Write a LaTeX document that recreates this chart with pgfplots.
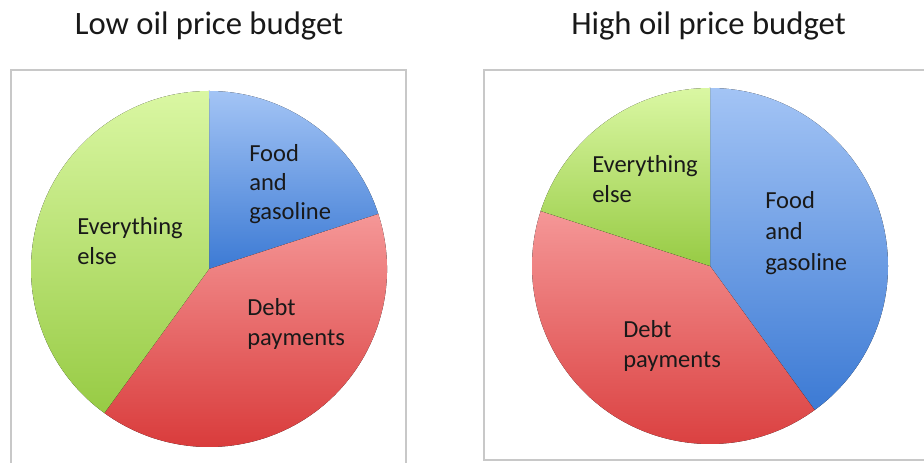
\documentclass[border=0pt]{standalone}
\usepackage{fontspec}
\setmainfont{Carlito}
\usepackage{pgfplots}
\usepackage{pgfplotstable}
\pgfplotsset{compat=1.18}

% shares of each budget, in percent, clockwise from 12 o'clock
\pgfplotstableread{
item share
food 20
debt 40
rest 40
}\lowtable
\pgfplotstableread{
item share
food 40
debt 40
rest 20
}\hightable

\definecolor{bluetop}{HTML}{A3C4F5}
\definecolor{bluebot}{HTML}{3C7AD4}
\definecolor{redtop}{HTML}{F59797}
\definecolor{redbot}{HTML}{D83838}
\definecolor{greentop}{HTML}{DAF7A3}
\definecolor{greenbot}{HTML}{97CB44}
\definecolor{framegray}{HTML}{C8C8C8}

\newcommand{\pieradius}{133.5pt}% 178 px

% start/end angles of the three slices from a table
\newcommand{\pieangles}[1]{%
  \pgfplotstablegetelem{0}{share}\of#1\pgfmathsetmacro\shA{\pgfplotsretval}%
  \pgfplotstablegetelem{1}{share}\of#1\pgfmathsetmacro\shB{\pgfplotsretval}%
  \pgfplotstablegetelem{2}{share}\of#1\pgfmathsetmacro\shC{\pgfplotsretval}%
  \pgfmathsetmacro\degper{360/(\shA+\shB+\shC)}%
  \pgfmathsetmacro\angA{90}%
  \pgfmathsetmacro\angB{\angA-\degper*\shA}%
  \pgfmathsetmacro\angC{\angB-\degper*\shB}%
  \pgfmathsetmacro\angD{\angC-\degper*\shC}%
}
\newcommand{\pieslice}[4]{%
  \fill[top color=#3, bottom color=#4]
    (axis cs:0,0) -- ++(#1:\pieradius) arc[start angle=#1, end angle=#2, radius=\pieradius] -- cycle;
}

\pgfplotsset{
  piebox/.style={
    x=0.75pt, y=0.75pt,
    anchor=origin,
    axis lines=box,
    ticks=none,
    axis line style={framegray, line width=1.5pt},
    clip=false,
  },
}
\tikzset{
  lbl/.style={anchor=base west, inner sep=0pt, font=\fontsize{18.4}{22}\selectfont, text=black!90},
  ttl/.style={anchor=base, inner sep=0pt, font=\fontsize{24.5}{29}\selectfont, text=black!90},
}

\begin{document}
\begin{tikzpicture}[x=0.75pt, y=0.75pt]
\path[use as bounding box] (0,0) rectangle (924,463);
\clip (0,0) rectangle (924,463);

\node[ttl] at (209,428) {Low oil price budget};
\node[ttl] at (708.5,428) {High oil price budget};

% low oil price
\pieangles{\lowtable}
\begin{axis}[piebox, at={(209,194)},
  xmin=-198, xmax=197, ymin=-201, ymax=199]
  \pieslice{\angA}{\angB}{bluetop}{bluebot}
  \pieslice{\angB}{\angC}{redtop}{redbot}
  \pieslice{\angC}{\angD}{greentop}{greenbot}
  \node[lbl] at (axis cs:40,107) {Food};
  \node[lbl] at (axis cs:40,78) {and};
  \node[lbl] at (axis cs:40,49) {gasoline};
  \node[lbl] at (axis cs:38,-47) {Debt};
  \node[lbl] at (axis cs:38,-77) {payments};
  \node[lbl] at (axis cs:-132,34) {Everything};
  \node[lbl] at (axis cs:-132,4) {else};
\end{axis}

% high oil price
\pieangles{\hightable}
\begin{axis}[piebox, at={(710,197)},
  xmin=-226, xmax=220, ymin=-194, ymax=196]
  \pieslice{\angA}{\angB}{bluetop}{bluebot}
  \pieslice{\angB}{\angC}{redtop}{redbot}
  \pieslice{\angC}{\angD}{greentop}{greenbot}
  \node[lbl] at (axis cs:55,57) {Food};
  \node[lbl] at (axis cs:55,26) {and};
  \node[lbl] at (axis cs:55,-5) {gasoline};
  \node[lbl] at (axis cs:-87,-72) {Debt};
  \node[lbl] at (axis cs:-87,-102) {payments};
  \node[lbl] at (axis cs:-118,93) {Everything};
  \node[lbl] at (axis cs:-118,63) {else};
\end{axis}
\end{tikzpicture}
\end{document}
